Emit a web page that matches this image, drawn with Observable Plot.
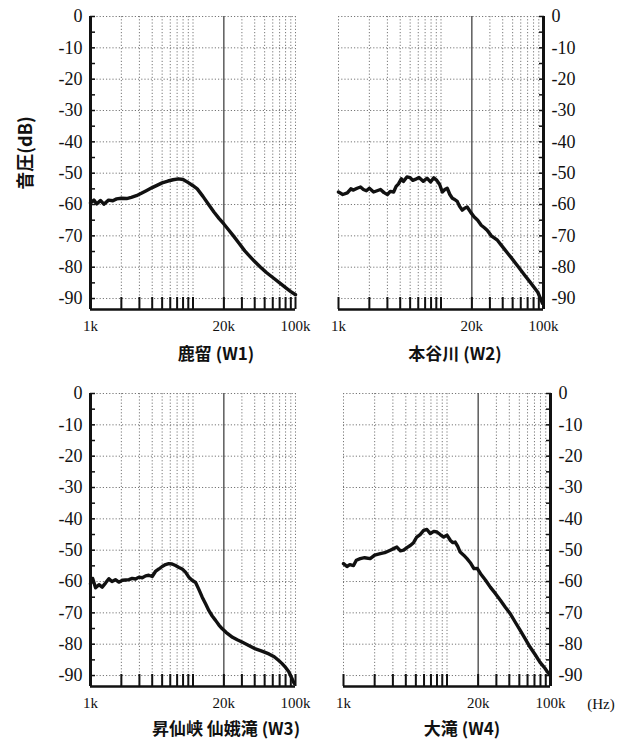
<!DOCTYPE html>
<html><head><meta charset="utf-8">
<script src="https://cdn.jsdelivr.net/npm/d3@7"></script>
<script src="https://cdn.jsdelivr.net/npm/@observablehq/plot@0.6"></script>
<style>
body{margin:0;background:#fff;}
#wrap{position:relative;width:625px;height:744px;overflow:hidden;background:#fff;}
#wrap svg{position:absolute;overflow:visible;}
#wrap svg text{font-family:"Liberation Serif",serif;}
.title{position:absolute;font-family:"Noto Sans CJK JP",sans-serif;font-size:17px;font-weight:bold;color:#111;transform:translate(-50%,-50%);white-space:nowrap;}
.unit{position:absolute;font-family:"Liberation Serif",serif;font-size:15px;color:#111;transform:translate(-50%,-50%);white-space:nowrap;}
.ylab{position:absolute;font-family:"Noto Sans CJK JP",sans-serif;font-size:18px;font-weight:bold;color:#111;transform:translate(-50%,-50%) rotate(-90deg);white-space:nowrap;}
</style></head><body><div id="wrap"></div>
<script>
// ---- data (Hz, dB) ----
const freqW1 = [1000,1080,1150,1250,1350,1500,1650,1800,2000,2250,2500,2800,3100,3500,4000,4500,5000,5700,6400,7200,8000,9000,10000,11000,12500,14200,16000,18000,20000,22000,24800,28000,32000,36000,40000,45600,52000,60000,70000,80000,90000,100000];
const dbW1 = [-59.5,-58.6,-59.8,-58.7,-59.9,-58.6,-58.8,-58.2,-58.0,-58.1,-57.7,-57.2,-56.5,-55.6,-54.6,-53.8,-53.1,-52.5,-52.1,-51.8,-52.0,-53.0,-54.0,-55.0,-57.4,-60.0,-62.4,-64.5,-66.2,-67.9,-70.0,-72.3,-74.8,-76.6,-78.2,-80.0,-81.7,-83.3,-85.0,-86.5,-87.8,-88.8];

const freqW2 = [1000,1100,1220,1320,1400,1520,1640,1750,1870,2000,2200,2380,2570,2780,3000,3200,3450,3650,3850,4100,4300,4650,5000,5300,5600,6100,6700,7300,7900,8500,9100,9700,10300,10900,11500,12200,12900,13600,14400,15200,16100,17000,18000,19500,21000,22800,24700,26500,28200,31000,35500,41000,48000,56000,65000,75000,88000,98000];
const dbW2 = [-56.0,-56.8,-56.3,-55.0,-55.4,-54.8,-54.4,-55.2,-55.6,-54.8,-56.0,-55.6,-55.2,-56.2,-56.8,-55.8,-56.0,-54.2,-53.4,-51.8,-52.6,-51.2,-51.4,-52.3,-52.0,-51.4,-52.6,-51.6,-52.8,-51.5,-52.3,-53.6,-56.0,-55.2,-54.8,-56.8,-58.0,-58.4,-59.0,-60.6,-61.8,-61.2,-60.8,-62.5,-63.9,-65.0,-66.6,-67.4,-68.2,-70.0,-71.4,-74.0,-76.8,-79.6,-82.4,-85.0,-88.0,-91.6];

const freqW3 = [1000,1050,1120,1210,1300,1400,1510,1620,1750,1890,2050,2200,2370,2550,2750,2970,3200,3450,3700,4000,4300,4650,5000,5400,5800,6250,6750,7300,7850,8450,9100,9800,10600,11400,12300,13300,14300,15400,16600,17900,19300,21000,24300,27000,30400,35000,40700,47000,55000,62000,68600,74000,80000,86000,92600,97000];
const dbW3 = [-60.7,-59.0,-62.0,-61.0,-61.8,-60.5,-59.1,-60.0,-59.4,-60.2,-59.6,-59.5,-59.4,-59.0,-59.2,-58.6,-58.8,-58.2,-58.0,-58.4,-56.8,-56.0,-55.2,-54.6,-54.3,-54.4,-54.9,-55.5,-56.0,-57.0,-58.6,-59.6,-60.3,-62.5,-65.0,-67.2,-69.3,-71.0,-72.4,-73.9,-75.1,-76.2,-77.8,-78.6,-79.4,-80.4,-81.5,-82.2,-83.1,-84.0,-85.2,-86.2,-87.4,-88.8,-91.0,-92.5];

const freqW4 = [1000,1080,1150,1250,1330,1450,1600,1810,2000,2270,2500,2830,3050,3280,3550,3810,4100,4420,4750,5100,5500,5950,6400,6900,7450,8000,8600,9300,10000,10800,11400,12000,12700,13400,14500,15600,16800,18200,19600,21100,23500,26200,29300,32800,36600,40900,45700,51000,57000,63400,71000,79000,88000,96000];
const dbW4 = [-54.3,-55.2,-54.6,-54.9,-53.2,-52.7,-52.4,-52.7,-51.6,-51.1,-50.8,-50.0,-49.5,-49.0,-50.2,-50.0,-49.2,-48.5,-47.6,-45.8,-45.0,-43.7,-43.4,-44.7,-44.0,-44.2,-45.0,-45.8,-45.2,-46.9,-47.6,-47.4,-48.8,-50.6,-51.6,-52.7,-54.0,-55.9,-55.8,-57.5,-59.5,-61.8,-63.8,-66.0,-68.2,-70.3,-73.0,-75.6,-78.3,-80.9,-83.3,-85.7,-87.6,-89.4];

const panelTitles = ["鹿留 (W1)", "本谷川 (W2)", "昇仙峡 仙娥滝 (W3)", "大滝 (W4)"];
const yAxisTitle = "音圧(dB)";
const xUnit = "(Hz)";

// ---- ticks ----
const xTicks = [1000,2000,3000,4000,5000,6000,7000,8000,9000,10000,20000,30000,40000,50000,60000,70000,80000,90000,100000];
const xLabelTicks = [1000,20000,100000];
const xLabelText = ["1k","20k","100k"];
const xSolidGrid = [20000];
const yTicks = [0,-10,-20,-30,-40,-50,-60,-70,-80,-90];
const yMinorTicks = [0,-5,-10,-15,-20,-25,-30,-35,-40,-45,-50,-55,-60,-65,-70,-75,-80,-85,-90];
const xDomain = [1000,100000];
const yDomain = [-93.5,0];

const wrap = document.getElementById("wrap");
const serif = "'Liberation Serif', serif";

function panel(freq, db, side, box) {
  const data = freq.map((f, i) => ({f, db: db[i]}));
  const xLabels = xLabelTicks.map((v, i) => ({v, t: xLabelText[i]}));
  const edge = side === "left" ? xDomain[0] : xDomain[1];
  const svg = Plot.plot({
    width: box.w, height: box.h,
    marginLeft: box.ml, marginRight: box.mr, marginTop: box.mt, marginBottom: box.mb,
    x: {type: "log", domain: xDomain, label: null},
    y: {domain: yDomain, label: null},
    style: {fontFamily: serif, color: "#111", background: "transparent", overflow: "visible"},
    marks: [
      Plot.gridY(yTicks, {stroke: "#777", strokeOpacity: 1, strokeDasharray: "1.2,2"}),
      Plot.gridX(xTicks.filter(d => !xSolidGrid.includes(d)), {stroke: "#777", strokeOpacity: 1, strokeDasharray: "1.2,2"}),
      Plot.ruleX(xSolidGrid, {stroke: "#333", strokeWidth: 1.2}),
      Plot.line(data, {x: "f", y: "db", stroke: "#111", strokeWidth: 3.4, strokeLinejoin: "round", strokeLinecap: "round"}),
      Plot.axisX(xTicks, {label: null, tickSize: -12, strokeWidth: 2, tickFormat: () => ""}),
      Plot.text(xLabels, {x: "v", text: "t", frameAnchor: "bottom", lineAnchor: "top", dy: 11, fontSize: 15, fontFamily: serif, fill: "#111"}),
      Plot.axisY(yMinorTicks, {anchor: side, label: null, tickSize: -5, strokeWidth: 1.5, tickFormat: () => ""}),
      Plot.axisY(yTicks, {anchor: side, label: null, tickSize: 0, tickPadding: 8, tickFormat: d => String(d), fontSize: 18, fontFamily: serif}),
      Plot.ruleY([yDomain[0]], {stroke: "#111", strokeWidth: 2.5}),
      Plot.ruleX([edge], {stroke: "#111", strokeWidth: 3})
    ]
  });
  svg.style.left = box.x + "px";
  svg.style.top = box.y + "px";
  wrap.appendChild(svg);
}

panel(freqW1, dbW1, "left",  {x: 0,   y: 0,   w: 310, h: 345, ml: 90, mr: 15, mt: 16, mb: 36});
panel(freqW2, dbW2, "right", {x: 310, y: 0,   w: 315, h: 345, ml: 28, mr: 82, mt: 16, mb: 36});
panel(freqW3, dbW3, "left",  {x: 0,   y: 370, w: 310, h: 345, ml: 90, mr: 15, mt: 23, mb: 29});
panel(freqW4, dbW4, "right", {x: 310, y: 370, w: 315, h: 345, ml: 33, mr: 75, mt: 23, mb: 29});

function addText(cls, text, x, y) {
  const d = document.createElement("div");
  d.className = cls; d.textContent = text;
  d.style.left = x + "px"; d.style.top = y + "px";
  wrap.appendChild(d);
}
addText("title", panelTitles[0], 216, 352);
addText("title", panelTitles[1], 455, 352);
addText("title", panelTitles[2], 226, 727);
addText("title", panelTitles[3], 462, 727);
addText("unit", xUnit, 601, 704);
addText("ylab", yAxisTitle, 24, 153);
</script></body></html>
